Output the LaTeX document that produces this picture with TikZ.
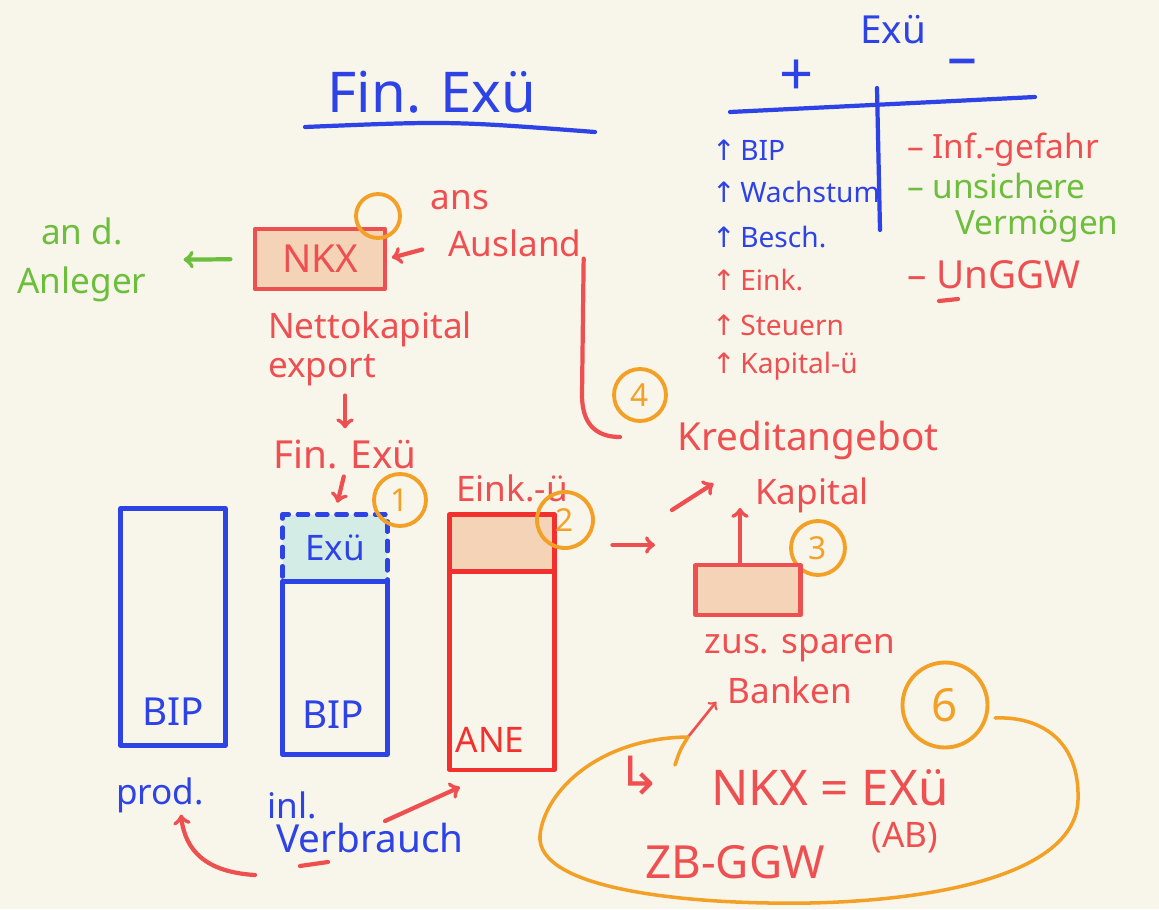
\documentclass[tikz,border=0pt]{standalone}
\usepackage{fontspec}
\setmainfont{Noto Sans}
\newfontfamily\arrowfont{DejaVu Sans}
\usetikzlibrary{positioning}
\definecolor{paper}{HTML}{F8F5EA}
\definecolor{inkblue}{HTML}{2D43E6}
\definecolor{inkred}{HTML}{EE5052}
\definecolor{barred}{HTML}{F2312E}
\definecolor{inkgreen}{HTML}{6DBE3C}
\definecolor{inkorange}{HTML}{F2A126}
\definecolor{peach}{HTML}{F5D3B6}
\definecolor{mint}{HTML}{D4ECE6}
\tikzset{
	pen/.style={line width=2.4pt,line cap=round,line join=round},
	hand/.style={font=\fontsize{#1}{#1}\selectfont,inner sep=1pt},
	hand/.default=20,
	num/.style={circle,draw=inkorange,line width=2.2pt,text=inkorange,minimum size=#1,inner sep=0pt,font=\fontsize{18}{18}\selectfont\bfseries},
	num/.default=1.04cm,
	bar/.style={draw,pen,minimum width=2.1cm,inner sep=0pt},
}
\begin{document}
\begin{tikzpicture}[x=0.02cm,y=-0.02cm]
	%paper
	\fill[paper] (0,0) rectangle (1159,909);
	\useasboundingbox (0,0) rectangle (1159,909);
	%title
	\node[hand=32,text=inkblue] (title) at (432,92) {Fin. Exü};
	\draw[pen,inkblue] (305,127) .. controls (450,121) .. (595,132);
	%table plus / minus
	\node[hand=22,text=inkblue] (exu) at (893,30) {Exü};
	\node[hand=34,text=inkblue] (plus) at (797,78) {+};
	\node[hand=34,text=inkblue] (minus) at (962,68) {–};
	\draw[pen,inkblue] (730,112) -- (1035,97);
	\draw[pen,inkblue] (877,88) -- (880,230);
	\foreach \y/\c/\t [count=\i] in {150/inkblue/BIP,192/inkblue/Wachstum,237/inkblue/Besch.,280/inkred/Eink.,325/inkred/Steuern,366/inkred/Kapital-ü}
		\node[hand=16,text=\c,anchor=west] (pro\i) at (710,\y) {{\arrowfont ↑}\,\t};
	\node[hand=19,text=inkred,anchor=west] (con1) at (905,150) {– Inf.-gefahr};
	\node[hand=19,text=inkgreen,anchor=west] (con2) at (905,186) {– unsichere};
	\node[hand=19,text=inkgreen,anchor=west] (con2b) at (953,226) {Vermögen};
	\node[hand=22,text=inkred,anchor=west] (con3) at (905,275) {– UnGGW};
	\draw[pen,inkred] (939,301) -- (958,299);
	%NKX
	\node[draw=inkred,pen,fill=peach,text=inkred,hand=22,minimum width=2.6cm,minimum height=1.2cm] (nkx) at (320,259) {NKX};
	\node[num=0.88cm] (n5) at (378,216) {};
	\node[hand,text=inkred] (aus) at (460,200) {ans};
	\node[hand,text=inkred] (ausland) at (515,243) {Ausland};
	\draw[pen,inkred,->,shorten <=0.5cm,shorten >=0.1cm] (ausland.west) -- (nkx.east);
	\node[hand,text=inkgreen,align=center] (anleg) at (82,260) {an d.\\[8pt]Anleger};
	\draw[pen,inkgreen,->,shorten <=0.45cm,shorten >=0.7cm] (nkx.west) -- (anleg.east);
	\node[hand,text=inkred,anchor=north west,align=left] (nke) at (266,310) {Nettokapital\\[2pt]export};
	\node[hand=22,text=inkred] (fin) at (345,455) {Fin. Exü};
	\draw[pen,inkred,->,shorten <=0.15cm,shorten >=0.2cm] (nke.south -| fin.north) -- (fin.north);
	%bars
	\node[bar,draw=inkblue,minimum height=4.74cm] (bar1) at (173,627) {};
	\node[hand=22,text=inkblue] (bip1) at (173,712) {BIP};
	\node[hand,text=inkblue] (prod) at (160,795) {prod.};
	\node[bar,draw=inkblue,dash pattern=on 6pt off 5pt,fill=mint,minimum height=1.34cm] (exubox) at (335,548) {};
	\node[hand,text=inkblue] (exu2) at (exubox) {Exü};
	\node[bar,draw=inkblue,minimum height=3.46cm] (bar2) at (335,668) {};
	\node[hand=22,text=inkblue] (bip2) at (333,715) {BIP};
	\draw[pen,inkred,->,shorten <=0.1cm,shorten >=0.2cm] (fin.south) -- (exubox.north);
	\node[bar,draw=barred,fill=peach,minimum height=1.14cm] (einkbox) at (502,543) {};
	\node[bar,draw=barred,minimum height=3.96cm] (bar3) at (502,671) {};
	\node[hand,text=barred] (ane) at (490,740) {ANE};
	\node[hand,text=inkred] (eink) at (512,488) {Eink.-ü};
	%numbers
	\node[num] (n1) at (400,500) {1};
	\node[num=1.12cm] (n2) at (565,520) {2};
	\node[num=1.08cm] (n3) at (818,548) {3};
	\node[num] (n4) at (640,395) {4};
	\node[num=1.7cm,font=\fontsize{26}{26}\selectfont\bfseries] (n6) at (945,705) {6};
	%consumption
	\node[hand,text=inkblue] (inl) at (292,805) {inl.};
	\node[hand=22,text=inkblue] (verb) at (370,838) {Verbrauch};
	\draw[pen,inkred] (300,866) -- (328,862);
	\coordinate (vtail) at (255,875);
	\draw[pen,inkred,->] (vtail) .. controls (205,872) and (185,850) .. ([xshift=-0.5cm]prod.south east);
	\draw[pen,inkred,->] ([xshift=0.3cm]verb.north) -- ([xshift=0.25cm,yshift=-0.3cm]bar3.south west);
	%capital
	\coordinate (kin) at (655,545);
	\draw[pen,inkred,->,shorten <=0.35cm] (kin -| n2.east) -- (kin);
	\node[draw=inkred,pen,fill=peach,minimum width=2.1cm,minimum height=1cm] (kapbox) at (748,590) {};
	\node[hand,text=inkred] (kap) at (812,495) {Kapital};
	\draw[pen,inkred,->] ([xshift=-0.16cm]kapbox.north) -- ([xshift=-0.16cm,yshift=1.1cm]kapbox.north);
	\node[hand=22,text=inkred] (kred) at (808,440) {Kreditangebot};
	\coordinate (kup) at (672,510);
	\draw[pen,inkred,->] (kup) -- ([xshift=0.76cm,yshift=-0.44cm]kred.south west);
	\coordinate (aend) at (620,437);
	\draw[pen,inkred] (ausland.south east) -- (582,395) .. controls (582,428) and (600,437) .. (aend);
	%banks
	\node[hand,text=inkred] (spar) at (800,648) {zus. sparen};
	\node[hand,text=inkred] (bank) at (790,690) {Banken};
	\coordinate (lstart) at (688,737);
	\draw[inkred,line width=1.5pt,line cap=round,->,shorten >=0.3cm] (lstart) -- (bank.west);
	\draw[pen,inkorange,line width=2pt] (675,765) .. controls (680,750) .. (lstart) .. controls (600,738) and (545,790) .. (540,835) .. controls (535,890) and (690,905) .. (810,903) .. controls (950,900) and (1076,870) .. (1078,800) .. controls (1080,740) and (1040,716) .. (995,718);
	\node[hand=30,text=inkred] (hook) at (640,776) {\arrowfont ↳};
	\node[hand=28,text=inkred] (eq) at (830,788) {NKX = EXü};
	\node[hand,text=inkred] (ab) at (905,838) {(AB)};
	\node[hand=26,text=inkred] (zb) at (735,862) {ZB-GGW};
\end{tikzpicture}
\end{document}
